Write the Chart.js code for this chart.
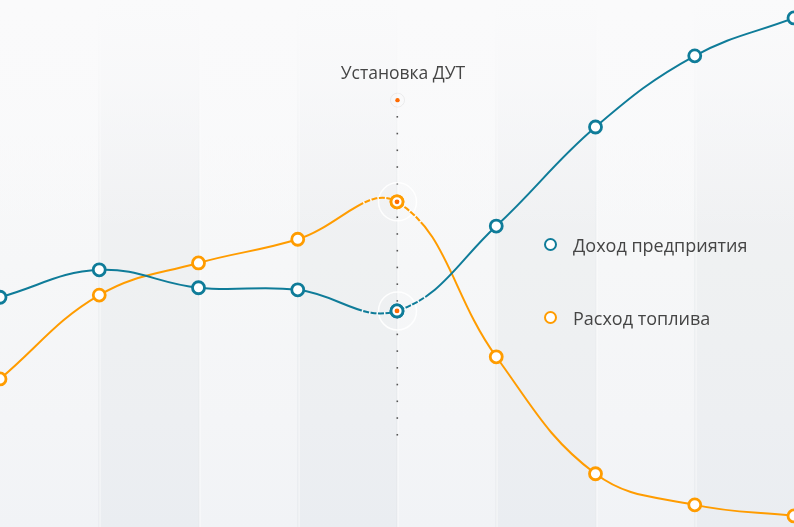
<!DOCTYPE html>
<html><head><meta charset="utf-8">
<script src="https://cdn.jsdelivr.net/npm/chart.js@4/dist/chart.umd.min.js"></script>
<style>
html,body{margin:0;padding:0;background:#f7f8f9;}
#wrap{position:relative;width:794px;height:527px;overflow:hidden;}
#c{position:absolute;left:0;top:0;}
.lbl{position:absolute;font-family:"Open Sans",sans-serif;font-size:18px;line-height:20px;color:#454545;white-space:nowrap;}
.mk{position:absolute;width:9px;height:9px;border-radius:50%;background:#fff;border:2.5px solid;}
</style></head><body>
<div id="wrap">
<canvas id="c" width="794" height="527"></canvas>
<div class="lbl" id="ann" style="left:403px;top:62px;font-size:17.5px;transform:translateX(-50%);">Установка ДУТ</div>
<span class="mk" style="left:544px;top:238px;border-color:#0f7c99;"></span>
<div class="lbl" style="left:573px;top:235px;">Доход предприятия</div>
<span class="mk" style="left:544px;top:311px;border-color:#ff9c00;"></span>
<div class="lbl" style="left:573px;top:308px;">Расход топлива</div>
</div>
<script>
const categories = ["1","2","3","4","5","6","7","8","9"];
const revenue = [43.6, 48.8, 45.4, 45.0, 41.0, 57.1, 75.9, 89.4, 96.6];
const fuel = [28.1, 44.0, 50.1, 54.6, 61.7, 32.3, 10.1, 4.2, 2.1];
const seriesNames = ["Доход предприятия", "Расход топлива"];
const annotationIndex = 4;
const annotationTop = 81.0;
const annotationBottom = 17.5;

const BLUE = '#0f7c99', ORANGE = '#ff9c00';

const bgPlugin = {
  id: 'bg',
  beforeDraw(chart) {
    const {ctx, width, height, scales: {x}} = chart;
    ctx.save();
    let g = ctx.createLinearGradient(0, 0, 0, height);
    g.addColorStop(0, '#fafafb');
    g.addColorStop(0.5, '#f6f7f8');
    g.addColorStop(0.8, '#f4f5f7');
    g.addColorStop(1, '#f1f3f6');
    ctx.fillStyle = g;
    ctx.fillRect(0, 0, width, height);
    for (let i = 0; i < categories.length - 1; i++) {
      const x0 = x.getPixelForValue(i), x1 = x.getPixelForValue(i + 1);
      if (i % 2 === 1) {
        ctx.fillStyle = 'rgba(190,196,208,0.12)';
        ctx.fillRect(x0, 0, x1 - x0, height);
      }
    }
    for (let i = 1; i < categories.length - 1; i++) {
      const xp = Math.round(x.getPixelForValue(i)) + 0.5;
      ctx.fillStyle = 'rgba(222,225,230,0.6)';
      ctx.fillRect(xp - 1, 0, 1, height);
      ctx.fillStyle = 'rgba(255,255,255,0.7)';
      ctx.fillRect(xp, 0, 1, height);
    }
    g = ctx.createLinearGradient(0, 0, 0, 230);
    g.addColorStop(0, 'rgba(250,250,251,1)');
    g.addColorStop(0.35, 'rgba(250,250,251,0.75)');
    g.addColorStop(1, 'rgba(250,250,251,0)');
    ctx.fillStyle = g;
    ctx.fillRect(0, 0, width, 230);
    // annotation dotted line
    const ax = Math.round(x.getPixelForValue(annotationIndex)) + 0.5;
    const y = chart.scales.y;
    const yt = y.getPixelForValue(annotationTop), yb = y.getPixelForValue(annotationBottom);
    ctx.fillStyle = '#555';
    const n = 19, step = (yb - (yt + 16.7)) / n;
    for (let k = 0; k <= n; k++) {
      const yy = yt + 16.7 + k * step;
      ctx.fillRect(ax - 1, yy - 0.8, 1.6, 1.6);
    }
    // halos
    ctx.strokeStyle = 'rgba(255,255,255,0.9)';
    ctx.lineWidth = 1.5;
    [revenue, fuel].forEach(s => {
      ctx.beginPath();
      ctx.arc(ax, y.getPixelForValue(s[annotationIndex]), 19, 0, Math.PI * 2);
      ctx.stroke();
    });
    ctx.strokeStyle = 'rgba(0,0,0,0.06)';
    ctx.lineWidth = 1;
    ctx.beginPath();
    ctx.arc(ax, yt, 7, 0, Math.PI * 2);
    ctx.stroke();
    ctx.fillStyle = '#ff6a00';
    ctx.beginPath();
    ctx.arc(ax, yt, 2.2, 0, Math.PI * 2);
    ctx.fill();
    ctx.restore();
  },
  beforeDatasetDraw(chart, args) {
    // nothing
  },
  afterDatasetDraw(chart, args) {
    // white dash gaps on the line near the annotation marker
    const {ctx, scales: {x, y}} = chart;
    const meta = args.meta;
    const line = meta.dataset;
    const pt = meta.data[annotationIndex];
    if (!line || !pt) return;
    ctx.save();
    ctx.beginPath();
    ctx.arc(pt.x, pt.y, 36, 0, Math.PI * 2);
    ctx.clip();
    ctx.beginPath();
    const pts = meta.data;
    // retrace segments adjacent to annotation point
    for (let i = Math.max(1, annotationIndex); i <= Math.min(pts.length - 1, annotationIndex + 1); i++) {
      const p0 = pts[i - 1], p1 = pts[i];
      ctx.moveTo(p0.x, p0.y);
      ctx.bezierCurveTo(p0.cp2x, p0.cp2y, p1.cp1x, p1.cp1y, p1.x, p1.y);
    }
    ctx.strokeStyle = 'rgba(255,255,255,0.95)';
    ctx.lineWidth = 3;
    ctx.setLineDash([1.5, 6]);
    ctx.stroke();
    ctx.restore();
    // redraw the point on top
    pt.draw(ctx, chart.chartArea);
  },
  afterDatasetsDraw(chart) {
    const {ctx, scales: {x, y}} = chart;
    const ax = x.getPixelForValue(annotationIndex);
    ctx.save();
    ctx.fillStyle = '#ff6a00';
    [revenue, fuel].forEach(s => {
      ctx.beginPath();
      ctx.arc(ax, y.getPixelForValue(s[annotationIndex]), 2.4, 0, Math.PI * 2);
      ctx.fill();
    });
    ctx.restore();
  }
};

new Chart(document.getElementById('c'), {
  type: 'line',
  data: {
    labels: categories,
    datasets: [
      {label: seriesNames[0], data: revenue, borderColor: BLUE, backgroundColor: '#fff',
       pointBorderColor: BLUE, pointBackgroundColor: '#fff', borderWidth: 2, pointRadius: 6, pointBorderWidth: 2.8, tension: 0.4},
      {label: seriesNames[1], data: fuel, borderColor: ORANGE, backgroundColor: '#fff',
       pointBorderColor: ORANGE, pointBackgroundColor: '#fff', borderWidth: 2, pointRadius: 6, pointBorderWidth: 2.8, tension: 0.4}
    ]
  },
  options: {
    responsive: false,
    animation: false,
    layout: {padding: 0, autoPadding: false},
    plugins: {legend: {display: false}, tooltip: {enabled: false}},
    scales: {
      x: {display: false, offset: false},
      y: {display: false, min: 0, max: 100}
    }
  },
  plugins: [bgPlugin]
});
</script>
</body></html>
